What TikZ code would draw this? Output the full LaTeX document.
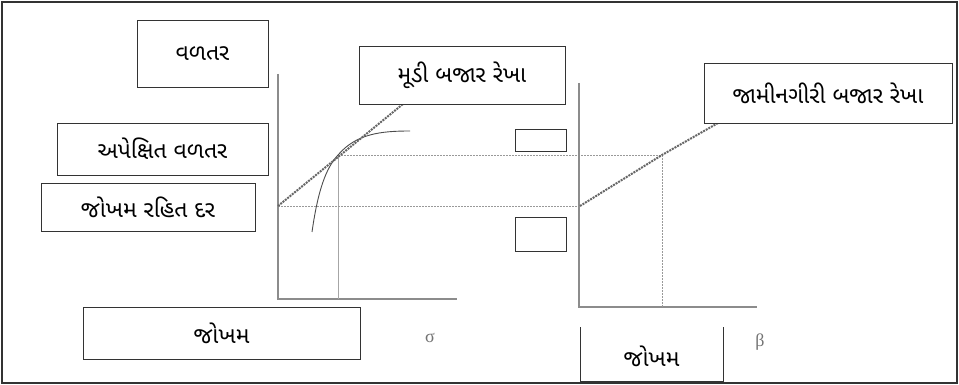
\documentclass[tikz,border=0pt]{standalone}
\usepackage{fontspec}
\newfontfamily\guj[Script=Gujarati]{Noto Sans Gujarati UI}
\newfontfamily\grk{Liberation Serif}
\begin{document}
\begin{tikzpicture}[x=1pt,y=-1pt,
  lbl/.style={draw=black!80,line width=0.9pt,fill=white,inner sep=0pt,font=\guj\fontsize{23}{26}\selectfont},
  axis/.style={draw=black!45,line width=1.3pt},
  thick dash/.style={draw=black!60,line width=2pt,dash pattern=on 2pt off 1pt},
  guide/.style={draw=black!40,line width=0.8pt,dash pattern=on 2pt off 1pt},
  thin guide/.style={draw=black!35,line width=0.6pt},
  greek/.style={text=black!55,font=\grk\fontsize{18}{20}\selectfont}]
\useasboundingbox (0,0) rectangle (959,385);
\draw[black!80,line width=2pt] (2,2) rectangle (957,383);
% left chart
\coordinate (lo) at (278,299);
\coordinate (ltop) at (278,74);
\coordinate (lend) at (457,299);
\coordinate (rf) at (278,206);
\coordinate (tan) at (338,155);
\coordinate (tanb) at (338,299);
\coordinate (cmlend) at (403,104);
\draw[axis] (ltop) -- (lo) -- (lend);
\draw[thin guide] (tan) -- (tanb);
\draw[black!70,line width=0.9pt] (312,232) .. controls (318,190) and (326,168) .. (tan) .. controls (356,134) and (380,131) .. (410,131);
% right chart
\coordinate (ro) at (579,307);
\coordinate (rtop) at (579,83);
\coordinate (rend) at (757,307);
\coordinate (rrf) at (580,206);
\coordinate (m) at (662,155);
\coordinate (mb) at (662,307);
\coordinate (smlend) at (718,123);
\draw[guide] (tan) -- (m);
\draw[guide] (rf) -- (rrf);
\draw[axis] (rtop) -- (ro) -- (rend);
\draw[guide] (m) -- (mb);
\draw[thick dash] (rf) -- (cmlend);
\draw[thick dash] (rrf) -- (m) -- (smlend);
% labels
\node[lbl,minimum width=131pt,minimum height=67pt] (ret) at (202.5,53.5) {વળતર};
\node[lbl,minimum width=206pt,minimum height=58pt] (cml) at (462,75) {મૂડી બજાર રેખા};
\node[lbl,minimum width=211pt,minimum height=52pt] (exp) at (162.5,149) {અપેક્ષિત વળતર};
\node[lbl,minimum width=214pt,minimum height=48pt] (rfr) at (148,207) {જોખમ રહિત દર};
\node[lbl,minimum width=277pt,minimum height=52pt] (risk1) at (221.5,333) {જોખમ};
\node[lbl,minimum width=248pt,minimum height=60pt] (sml) at (828,93) {જામીનગીરી બજાર રેખા};
\node[lbl,minimum width=51pt,minimum height=22pt] (sb1) at (540.5,140) {};
\node[lbl,minimum width=51pt,minimum height=34pt] (sb2) at (540.5,234) {};
\node[inner sep=0pt,font=\guj\fontsize{23}{26}\selectfont] (risk2) at (651.5,356) {જોખમ};
\draw[black!80,line width=0.9pt] (580,327) -- (580,381) -- (723,381) -- (723,327);
\node[greek] (sig) at (430,338) {σ};
\node[greek] (bet) at (760,342) {β};
\end{tikzpicture}
\end{document}
